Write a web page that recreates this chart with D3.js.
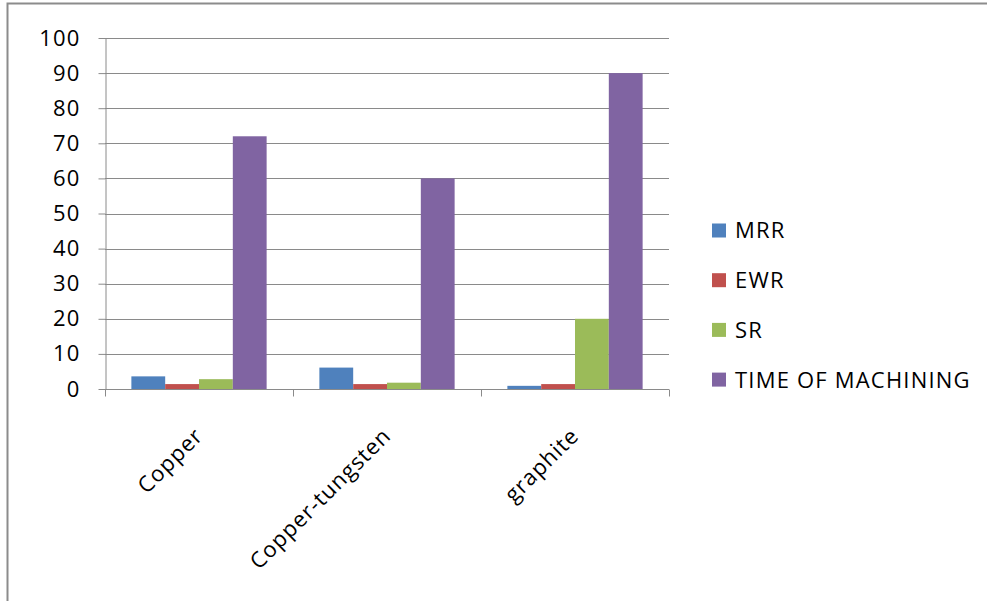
<!DOCTYPE html>
<html>
<head>
<meta charset="utf-8">
<script src="https://cdn.jsdelivr.net/npm/d3@7"></script>
<style>
  html, body { margin: 0; padding: 0; background: #fff; }
  svg { display: block; }
  text { font-family: "Open Sans", sans-serif; fill: #000; }
</style>
</head>
<body>
<svg id="chart" width="987" height="601"></svg>
<script>
// Electrode materials and the measured responses
const categories = ["Copper", "Copper-tungsten", "graphite"];
const seriesNames = ["MRR", "EWR", "SR", "TIME OF MACHINING"];
const mrr = [3.6, 6.1, 0.9];
const ewr = [1.4, 1.4, 1.4];
const sr = [2.8, 1.8, 20];
const timeOfMachining = [72, 60, 90];
const yTicks = [0, 10, 20, 30, 40, 50, 60, 70, 80, 90, 100];
const colors = ["#4F81BD", "#C0504D", "#9BBB59", "#8064A2"];

const seriesValues = [mrr, ewr, sr, timeOfMachining];
const rows = categories.map((c, i) => ({
  category: c,
  values: seriesNames.map((s, k) => ({ series: s, value: seriesValues[k][i], k }))
}));

const svg = d3.select("#chart");
const plot = { left: 105, right: 669, top: 38, bottom: 389 };

// Chart frame
svg.append("path")
  .attr("d", "M7.5,620 L7.5,3.5 L1000,3.5")
  .attr("fill", "none")
  .attr("stroke", "#8c8c8c")
  .attr("stroke-width", 2);

const x0 = d3.scaleBand().domain(categories).range([plot.left, plot.right]).padding(0);
const x1 = d3.scaleBand().domain(seriesNames)
  .range([0, x0.bandwidth()])
  .paddingInner(0)
  .paddingOuter(0.78);
const y = d3.scaleLinear().domain([0, 100]).range([plot.bottom, plot.top]);

// Horizontal gridlines
svg.append("g")
  .selectAll("line")
  .data(yTicks.filter(t => t > 0))
  .join("line")
  .attr("x1", plot.left).attr("x2", plot.right)
  .attr("y1", d => Math.round(y(d)) + 0.5).attr("y2", d => Math.round(y(d)) + 0.5)
  .attr("stroke", "#8a8a8a").attr("stroke-width", 1);

// Bars
svg.append("g")
  .selectAll("g")
  .data(rows)
  .join("g")
  .attr("transform", d => `translate(${x0(d.category)},0)`)
  .selectAll("rect")
  .data(d => d.values)
  .join("rect")
  .attr("x", d => x1(d.series))
  .attr("width", x1.bandwidth())
  .attr("y", d => y(d.value))
  .attr("height", d => y(0) - y(d.value))
  .attr("fill", d => colors[d.k]);

// Y axis
const yAxis = svg.append("g")
  .attr("transform", `translate(${plot.left + 0.5},0)`)
  .call(d3.axisLeft(y).tickValues(yTicks).tickSize(7).tickPadding(18).tickSizeOuter(0));
yAxis.select(".domain").attr("stroke", "#8a8a8a");
yAxis.selectAll(".tick line").attr("stroke", "#8a8a8a");
yAxis.selectAll(".tick text")
  .style("font-family", "'Open Sans', sans-serif")
  .style("font-size", "22px")
  .style("letter-spacing", "1.2px")
  .attr("fill", "#000");

// X axis with ticks at category boundaries
const xAxisG = svg.append("g").attr("transform", `translate(0,${plot.bottom + 0.5})`);
xAxisG.append("line")
  .attr("x1", plot.left).attr("x2", plot.right)
  .attr("stroke", "#8a8a8a");
const bounds = categories.map(c => x0(c)).concat([x0(categories[categories.length - 1]) + x0.bandwidth()]);
xAxisG.selectAll("line.tk")
  .data(bounds)
  .join("line")
  .attr("class", "tk")
  .attr("x1", d => Math.round(d) + 0.5).attr("x2", d => Math.round(d) + 0.5)
  .attr("y1", 0).attr("y2", 7)
  .attr("stroke", "#8a8a8a");

// Rotated category labels
svg.append("g")
  .selectAll("text")
  .data(categories)
  .join("text")
  .attr("transform", d => `translate(${x0(d) + x0.bandwidth() / 2 - 6},${plot.bottom + 37}) rotate(-45)`)
  .attr("text-anchor", "end")
  .attr("dy", "0.72em")
  .style("font-size", "22px")
  .style("letter-spacing", "1px")
  .text(d => d);

// Legend
const legend = svg.append("g")
  .selectAll("g")
  .data(seriesNames)
  .join("g")
  .attr("transform", (d, i) => `translate(712,${230.5 + i * 49.7})`);
legend.append("rect")
  .attr("x", 0).attr("y", -7)
  .attr("width", 14).attr("height", 14)
  .attr("fill", (d, i) => colors[i]);
legend.append("text")
  .attr("x", 23)
  .attr("dy", "0.36em")
  .style("font-size", "22px")
  .style("letter-spacing", "1.2px")
  .text(d => d);
</script>
</body>
</html>
